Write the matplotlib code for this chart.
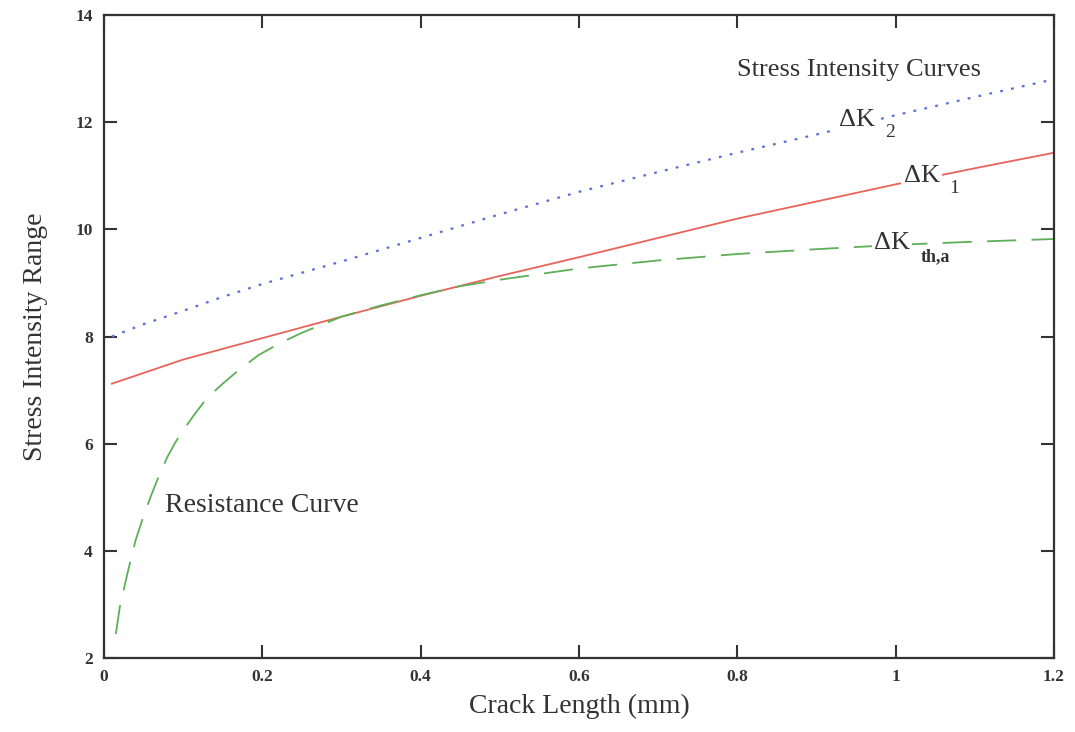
#!/usr/bin/env python3
"""
Stress intensity range vs crack length with the resistance curve.
"""

import numpy as np
import matplotlib
matplotlib.use('Agg')
import matplotlib.pyplot as plt

# Stress intensity curves
crack_len = [0.01, 0.05, 0.1, 0.15, 0.2, 0.3, 0.4, 0.5, 0.6, 0.7, 0.8, 0.9, 1.0, 1.1, 1.2]
dk2 = [8.0, 8.23, 8.48, 8.74, 8.98, 9.4, 9.84, 10.28, 10.7, 11.07, 11.43, 11.77, 12.13, 12.47, 12.8]
dk1 = [7.12, 7.32, 7.57, 7.77, 7.97, 8.37, 8.76, 9.13, 9.48, 9.84, 10.2, 10.52, 10.84, 11.14, 11.43]

# Resistance curve (threshold)
crack_len_r = [0.015, 0.02, 0.03, 0.04, 0.05, 0.06, 0.07, 0.08, 0.09, 0.1, 0.113,
               0.13, 0.15, 0.17, 0.195, 0.22, 0.25, 0.3, 0.35, 0.4, 0.45, 0.5,
               0.6, 0.7, 0.8, 0.9, 1.0, 1.1, 1.2]
dk_th = [2.45, 2.95, 3.6, 4.2, 4.65, 5.05, 5.42, 5.75, 6.02, 6.25, 6.52,
         6.85, 7.12, 7.37, 7.65, 7.86, 8.07, 8.37, 8.58, 8.77, 8.94, 9.06,
         9.27, 9.42, 9.54, 9.63, 9.71, 9.77, 9.82]

x_ticks = [0, 0.2, 0.4, 0.6, 0.8, 1, 1.2]
x_tick_labels = ['0', '0.2', '0.4', '0.6', '0.8', '1', '1.2']
y_ticks = [2, 4, 6, 8, 10, 12, 14]

SERIF = ['Liberation Serif', 'DejaVu Serif']
INK = '#333333'


def label_dk(ax, x, y, sub, sub_dx, sub_dy, bold=False):
    """Delta K label with a lowered subscript, blanking the line behind it."""
    box = dict(facecolor='white', edgecolor='none', pad=1.5)
    ax.text(x, y, '\u0394K', family=SERIF, fontsize=19, color=INK,
            va='center', bbox=box, zorder=5)
    ax.text(x + sub_dx, y + sub_dy, sub, family=SERIF,
            fontsize=13 if bold else 14, fontweight='bold' if bold else 'normal',
            color=INK, va='center', bbox=box, zorder=5)


def make_plot():
    plt.rcParams['lines.scale_dashes'] = False
    fig = plt.figure(figsize=(10.75, 7.32), dpi=100)
    ax = fig.add_axes([0.0967, 0.101, 0.8837, 0.8785])

    ax.plot(crack_len, dk2, color='#5b6fd6', lw=1.6, dashes=(2.0, 6.0))
    ax.plot(crack_len, dk1, color='#e8645a', lw=1.3)
    ax.plot(crack_len_r, dk_th, color='#5fae58', lw=1.3, dashes=(21.0, 11.0))

    ax.set_xlim(0, 1.2)
    ax.set_ylim(2, 14)
    ax.set_xticks(x_ticks)
    ax.set_xticklabels(x_tick_labels)
    ax.set_yticks(y_ticks)

    for spine in ax.spines.values():
        spine.set_linewidth(1.6)
        spine.set_color(INK)
    ax.tick_params(direction='in', length=9.5, width=1.5, color=INK,
                   top=True, right=True, pad=8, labelsize=12.5, labelcolor=INK)
    for lab in ax.get_xticklabels() + ax.get_yticklabels():
        lab.set_family(SERIF)
        lab.set_fontweight('bold')

    ax.set_xlabel('Crack Length (mm)', family=SERIF, fontsize=20, color=INK, labelpad=6)
    ax.set_ylabel('Stress Intensity Range', family=SERIF, fontsize=20, color=INK, labelpad=20)

    # annotations
    ax.text(0.80, 12.97, 'Stress Intensity Curves', family=SERIF, fontsize=19,
            color=INK, va='center', ha='left')
    ax.text(0.077, 4.85, 'Resistance Curve', family=SERIF, fontsize=20,
            color=INK, va='center', ha='left')

    label_dk(ax, 0.929, 12.04, '2', 0.058, -0.24)
    label_dk(ax, 1.01, 11.0, '1', 0.058, -0.24)
    label_dk(ax, 0.973, 9.74, 'th,a', 0.059, -0.25, bold=True)

    fig.savefig('out.png', dpi=100)


if __name__ == "__main__":
    make_plot()
